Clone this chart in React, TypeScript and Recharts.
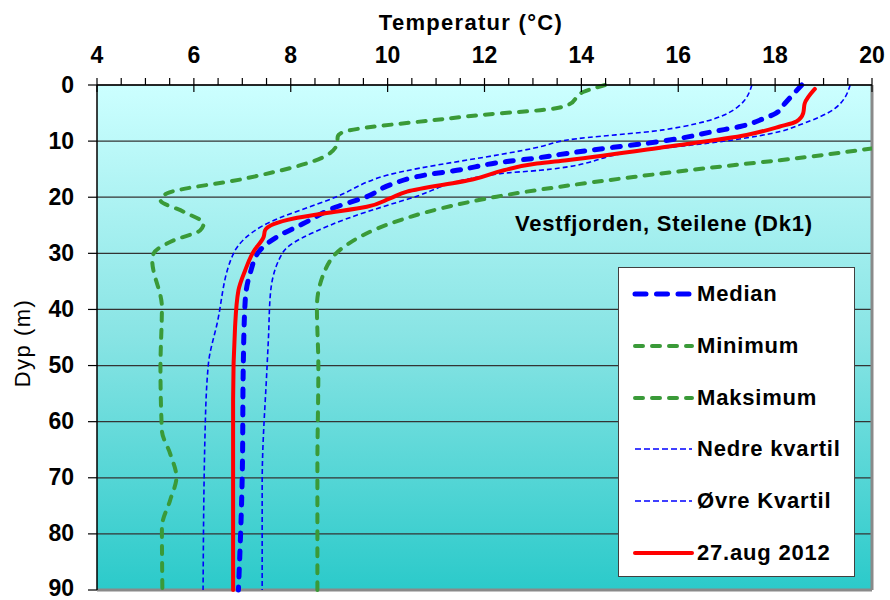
import React from "react";
import { LineChart, Line, XAxis, YAxis, CartesianGrid, ReferenceLine, Legend } from "recharts";

// [depth (m), temperature (°C)] pairs
const medianPts = [
  [0, 18.55], [1.2, 18.42], [3.3, 18.2], [5, 18.02], [6, 17.76], [7.4, 17.28], [8.3, 16.72],
  [9.5, 16.04], [10.4, 15.35], [11.1, 14.66], [12.2, 13.7], [13.1, 13.0], [13.7, 12.4],
  [15.2, 11.43], [16.1, 10.74], [17.8, 10.05], [19.9, 9.57], [21.7, 8.95], [24.7, 8.26],
  [27.1, 7.71], [29.4, 7.37], [33.6, 7.16], [38.4, 7.06], [50, 7.02], [69, 7.0], [90, 6.92],
];

const minimumPts = [
  [0, 14.49], [1.2, 14.05], [3.6, 13.71], [4.5, 13.15], [5.05, 12.32], [6.2, 11.02], [8.4, 9.08],
  [9.2, 8.97], [10.3, 8.96], [12.5, 8.75], [16.6, 7.1], [19.3, 5.45], [20.5, 5.31], [22.6, 5.79],
  [24.7, 6.2], [25.9, 6.13], [27.7, 5.58], [30, 5.17], [31.2, 5.14], [39.6, 5.34], [50.3, 5.31],
  [61.6, 5.34], [65.7, 5.51], [69.9, 5.64], [74, 5.51], [78.8, 5.34], [90, 5.35],
];

const maksimumPts = [
  [11.3, 20.0], [13.4, 18.1], [14.3, 17.13], [16.4, 15.07], [19.9, 12.25], [22, 11.1],
  [24.7, 10.05], [28.9, 9.09], [33.6, 8.68], [39.6, 8.54], [50.3, 8.57], [68.2, 8.55], [90, 8.55],
];

const nedrePts = [
  [0, 17.52], [3.9, 17.23], [8, 15.69], [9.8, 13.71], [11, 13.15], [16.1, 9.98], [19.9, 8.95],
  [25, 7.44], [30, 6.82], [42.5, 6.48], [49.7, 6.3], [62.2, 6.23], [90, 6.19],
];

const ovrePts = [
  [0, 19.55], [4.2, 19.23], [7.1, 18.51], [8.3, 18.1], [9.8, 17.13], [11.9, 15.07], [15.2, 13.15],
  [15.8, 12.32], [20.2, 10.47], [25, 8.81], [29.8, 7.84], [37.2, 7.58], [45, 7.54], [50.3, 7.51],
  [71, 7.41], [90, 7.41],
];

const aug2012Pts = [
  [0.7, 18.82], [3.3, 18.61], [5, 18.58], [6.5, 18.44], [7.4, 18.1], [8.9, 17.41], [11, 15.76],
  [13.4, 13.7], [14, 13.08], [15.2, 12.4], [16.8, 11.77], [19, 10.4], [20.2, 10.05], [21.7, 9.57],
  [22.9, 8.68], [23.8, 8.06], [25.9, 7.47], [27.1, 7.44], [29.7, 7.23], [33, 7.06], [36.6, 6.92],
  [43.2, 6.85], [56, 6.81], [90, 6.81],
];

const tempTicks = [4, 4.5, 5, 5.5, 6, 6.5, 7, 7.5, 8, 8.5, 9, 9.5, 10, 10.5, 11, 11.5, 12, 12.5, 13, 13.5, 14, 14.5, 15, 15.5, 16, 16.5, 17, 17.5, 18, 18.5, 19, 19.5, 20];
const depthTicks = [0, 10, 20, 30, 40, 50, 60, 70, 80, 90];

const toRows = (pts: number[][]) => pts.map(([d, t]) => ({ d, t }));

const FONT = "'Liberation Sans', Arial, sans-serif";
const BLUE = "#0000ff";
const GREEN = "#3a9a38";

const series = [
  { name: "Median", data: toRows(medianPts), stroke: BLUE, width: 5, dash: "8 10", legendDash: "11 10.5", cap: "round" },
  { name: "Minimum", data: toRows(minimumPts), stroke: GREEN, width: 4, dash: "8 9", legendDash: "8 9", cap: "round" },
  { name: "Maksimum", data: toRows(maksimumPts), stroke: GREEN, width: 4, dash: "8 9", legendDash: "8 9", cap: "round" },
  { name: "Nedre kvartil", data: toRows(nedrePts), stroke: BLUE, width: 1.6, dash: "5 3", legendDash: "6 3", cap: "butt" },
  { name: "Øvre Kvartil", data: toRows(ovrePts), stroke: BLUE, width: 1.6, dash: "5 3", legendDash: "6 3", cap: "butt" },
  { name: "27.aug 2012", data: toRows(aug2012Pts), stroke: "#ff0000", width: 4, dash: undefined, legendDash: undefined, cap: "round" },
];

const X_TICK_SIZE = 6;
const X_TICK_MARGIN = 19;

const TempTick = (props: any) => {
  const { x, y, payload } = props;
  const axisY = y + X_TICK_SIZE + X_TICK_MARGIN;
  const v = payload.value;
  const major = Math.abs(v % 2) < 1e-6;
  return (
    <g>
      <line x1={x} x2={x} y1={axisY - 7} y2={major ? axisY + 7 : axisY} stroke="#000" strokeWidth={1.2} />
      {major && (
        <text x={x} y={axisY - 22} textAnchor="middle" fontSize={23} fontWeight="bold" fill="#000" fontFamily={FONT}>
          {v}
        </text>
      )}
    </g>
  );
};

const DepthTick = (props: any) => {
  const { x, y, payload } = props;
  // keep the bottom label inside the 600px frame
  const dy = payload.value === 90 ? 5.5 : 7.5;
  return (
    <text x={x} y={y} dy={dy} textAnchor="end" fontSize={23} fontWeight="bold" fill="#000" fontFamily={FONT}>
      {payload.value}
    </text>
  );
};

const renderLegend = () => (
  <div
    style={{
      width: 237,
      height: 310,
      border: "1.5px solid #404040",
      background: "#fff",
      boxSizing: "border-box",
      position: "relative",
    }}
  >
    {series.map((s, i) => (
      <div
        key={s.name}
        style={{ position: "absolute", left: 0, top: 26 + i * 51.8 - 15, height: 30, display: "flex", alignItems: "center" }}
      >
        <svg width={78} height={30}>
          <line
            x1={16}
            x2={73}
            y1={15}
            y2={15}
            stroke={s.stroke}
            strokeWidth={s.width}
            strokeDasharray={s.legendDash}
            strokeLinecap={s.cap as any}
          />
        </svg>
        <span style={{ fontFamily: FONT, fontWeight: "bold", fontSize: 22, letterSpacing: 0.8, color: "#000" }}>{s.name}</span>
      </div>
    ))}
  </div>
);

export default function App() {
  return (
    <div style={{ position: "absolute", left: 0, top: 0, width: 890, height: 600, background: "#fff" }}>
      <LineChart width={890} height={600} layout="vertical" margin={{ top: 0, right: 18, bottom: 10, left: 0 }}>
        <defs>
          <linearGradient id="bgGrad" x1="0" y1="0" x2="0" y2="1">
            <stop offset="0" stopColor="#ccffff" />
            <stop offset="0.5" stopColor="#88e4e4" />
            <stop offset="1" stopColor="#2bcaca" />
          </linearGradient>
        </defs>
        <CartesianGrid vertical={false} stroke="#333" strokeWidth={1.2} fill="url(#bgGrad)" fillOpacity={1} />
        <XAxis
          type="number"
          dataKey="t"
          orientation="top"
          domain={[4, 20]}
          ticks={tempTicks}
          interval={0}
          allowDataOverflow
          height={85}
          tickLine={false}
          tickSize={X_TICK_SIZE}
          tickMargin={X_TICK_MARGIN}
          axisLine={{ stroke: "#000", strokeWidth: 1.5 }}
          tick={<TempTick />}
        />
        <YAxis
          type="number"
          dataKey="d"
          domain={[0, 90]}
          ticks={depthTicks}
          interval={0}
          width={97}
          tickSize={9}
          tickMargin={14}
          tickLine={{ stroke: "#000", strokeWidth: 1.2 }}
          axisLine={{ stroke: "#000", strokeWidth: 1.5 }}
          tick={<DepthTick />}
        />
        <ReferenceLine x={20} stroke="#8a8a8a" strokeWidth={3} />
        <ReferenceLine y={90} stroke="#8a8a8a" strokeWidth={3} />
        {series.map((s) => (
          <Line
            key={s.name}
            name={s.name}
            data={s.data}
            dataKey="t"
            type="monotone"
            stroke={s.stroke}
            strokeWidth={s.width}
            strokeDasharray={s.dash}
            strokeLinecap={s.cap as any}
            dot={false}
            activeDot={false}
            isAnimationActive={false}
          />
        ))}
        <Legend
          layout="vertical"
          align="center"
          verticalAlign="middle"
          content={renderLegend}
          wrapperStyle={{ left: 618, top: 267, width: 237, height: 310 }}
        />
        <text x={471} y={30} textAnchor="middle" fontSize={22} fontWeight="bold" letterSpacing={1.3} fontFamily={FONT} fill="#000">
          Temperatur (°C)
        </text>
        <text
          x={30}
          y={343}
          transform="rotate(-90 30 343)"
          textAnchor="middle"
          fontSize={22}
          letterSpacing={1.5}
          fontFamily={FONT}
          fill="#000"
        >
          Dyp (m)
        </text>
        <text x={515} y={231} fontSize={22} fontWeight="bold" letterSpacing={0.75} fontFamily={FONT} fill="#000">
          Vestfjorden, Steilene (Dk1)
        </text>
      </LineChart>
    </div>
  );
}
